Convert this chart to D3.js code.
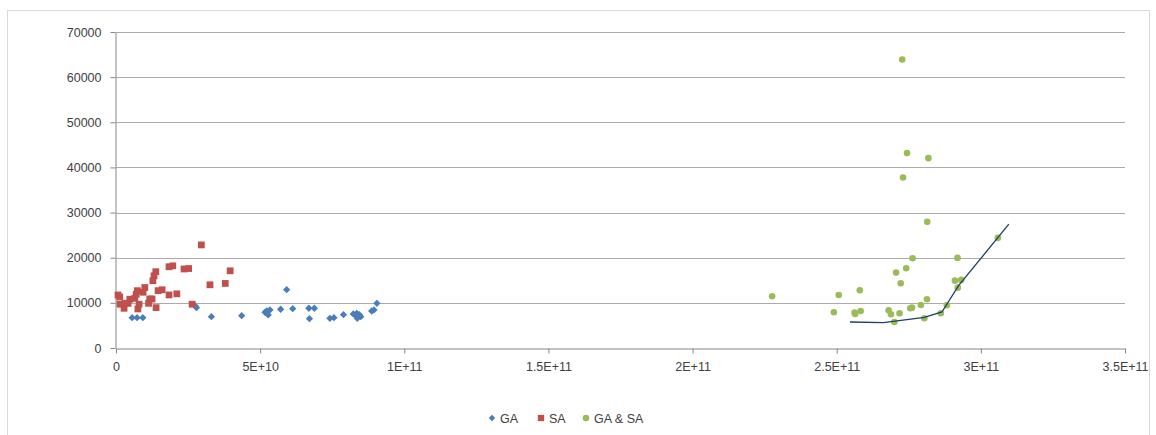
<!DOCTYPE html>
<meta charset="utf-8">

<!-- Load d3.js -->
<script src="https://d3js.org/d3.v7.min.js"></script>

<div id="my_dataviz"></div>
<style>
  body { margin: 0; background: #fff; }
  text { font-family: "Liberation Sans", Arial, sans-serif; fill: #404040; }
</style>
<script>

// GA points [x, y]
var gaData = [
  [0.56e10, 6720], [0.73e10, 6720], [0.93e10, 6720],
  [2.79e10, 8940], [2.75e10, 9300], [3.31e10, 6940],
  [4.36e10, 7160], [5.92e10, 12930],
  [5.23e10, 8200], [5.34e10, 8430], [5.28e10, 7320], [5.17e10, 7920],
  [5.71e10, 8580], [6.13e10, 8720], [6.69e10, 8800], [6.88e10, 8800],
  [6.71e10, 6500], [7.42e10, 6580], [7.56e10, 6720], [7.89e10, 7380],
  [8.23e10, 7540], [8.35e10, 7690], [8.44e10, 7380], [8.37e10, 6580],
  [8.33e10, 7100], [8.49e10, 6940], [8.87e10, 8200], [8.95e10, 8430],
  [9.05e10, 9900]
];

// SA points [x, y]
var saData = [
  [2.96e10, 22840], [1.84e10, 18000], [1.97e10, 18200], [2.36e10, 17500],
  [2.52e10, 17600], [1.38e10, 16900], [1.32e10, 16000], [1.28e10, 14900],
  [3.96e10, 17100], [3.26e10, 14000], [3.79e10, 14300], [1.46e10, 12700],
  [1.60e10, 12900], [1.84e10, 11750], [2.11e10, 12000], [1.00e10, 13400],
  [0.94e10, 12350], [0.74e10, 12700], [0.70e10, 11900], [0.07e10, 11750],
  [0.13e10, 11300], [0.48e10, 10800], [0.42e10, 9900], [0.65e10, 11000],
  [1.17e10, 10860], [1.25e10, 10860], [1.13e10, 9900], [0.80e10, 9700],
  [0.76e10, 8650], [0.14e10, 9700], [0.28e10, 8800], [1.39e10, 8940],
  [2.64e10, 9700], [0.32e10, 9900]
];

// GA & SA points [x, y]
var gasaData = [
  [2.727e11, 63900], [2.744e11, 43170], [2.818e11, 42060], [2.730e11, 37760],
  [2.814e11, 27940], [3.059e11, 24390], [2.763e11, 19890], [2.919e11, 19960],
  [2.741e11, 17670], [2.706e11, 16700], [2.722e11, 14350], [2.910e11, 14920],
  [2.932e11, 15080], [2.920e11, 13370], [2.276e11, 11460], [2.507e11, 11750],
  [2.580e11, 12790], [2.813e11, 10800], [2.792e11, 9530], [2.755e11, 8800],
  [2.761e11, 8940], [2.882e11, 9470], [2.490e11, 7910], [2.562e11, 7830],
  [2.564e11, 7540], [2.583e11, 8200], [2.680e11, 8360], [2.688e11, 7470],
  [2.718e11, 7690], [2.700e11, 5760], [2.804e11, 6580], [2.861e11, 7690]
];

// trend line
var trendData = [
  [2.546e11, 5760], [2.662e11, 5610], [2.804e11, 6800],
  [2.865e11, 7980], [2.922e11, 13750], [3.097e11, 27430]
];

var xTicks = [0, 5e10, 1e11, 1.5e11, 2e11, 2.5e11, 3e11, 3.5e11];
var xTickLabels = ["0", "5E+10", "1E+11", "1.5E+11", "2E+11", "2.5E+11", "3E+11", "3.5E+11"];
var yTicks = [0, 10000, 20000, 30000, 40000, 50000, 60000, 70000];

var seriesNames = ["GA", "SA", "GA & SA"];
var colors = ["#4a7ebb", "#c0504d", "#9bbb59"];

var W = 1156, H = 435;

var svg = d3.select("#my_dataviz")
  .append("svg")
    .attr("width", W)
    .attr("height", H);

// chart border
svg.append("rect")
  .attr("x", 7.5).attr("y", 10.5)
  .attr("width", 1142).attr("height", 440)
  .attr("fill", "none")
  .attr("stroke", "#d9d9d9");

var x = d3.scaleLinear().domain([0, 3.5e11]).range([116, 1125]);
var y = d3.scaleLinear().domain([0, 70000]).range([348, 32]);

// gridlines
svg.append("g")
  .selectAll("line")
  .data(yTicks.slice(1))
  .enter()
  .append("line")
    .attr("x1", x(0)).attr("x2", x(3.5e11))
    .attr("y1", function(d) { return Math.round(y(d)) + 0.5; })
    .attr("y2", function(d) { return Math.round(y(d)) + 0.5; })
    .attr("stroke", "#ababab");

// X axis
var xAxis = svg.append("g")
  .attr("transform", "translate(0," + (Math.round(y(0)) + 0.5) + ")")
  .call(d3.axisBottom(x)
    .tickValues(xTicks)
    .tickFormat(function(d, i) { return xTickLabels[i]; })
    .tickSizeInner(5).tickSizeOuter(0)
    .tickPadding(9));

// Y axis
var yAxis = svg.append("g")
  .attr("transform", "translate(" + (Math.round(x(0)) - 0.5) + ",0)")
  .call(d3.axisLeft(y)
    .tickValues(yTicks)
    .tickFormat(d3.format("d"))
    .tickSizeInner(5).tickSizeOuter(0)
    .tickPadding(9));

svg.selectAll(".domain, .tick line").attr("stroke", "#868686");
svg.selectAll(".tick text")
  .style("font-size", "12.5px")
  .style("font-family", "'Liberation Sans', Arial, sans-serif")
  .attr("fill", "#404040");

// markers
var diamond = d3.symbol().type(d3.symbolDiamond2).size(34);
var square = d3.symbol().type(d3.symbolSquare).size(46);

svg.append("g")
  .selectAll("path")
  .data(gaData)
  .enter()
  .append("path")
    .attr("d", diamond)
    .attr("transform", function(d) { return "translate(" + x(d[0]) + "," + y(d[1]) + ")"; })
    .attr("fill", colors[0]);

svg.append("g")
  .selectAll("path")
  .data(saData)
  .enter()
  .append("path")
    .attr("d", square)
    .attr("transform", function(d) { return "translate(" + x(d[0]) + "," + y(d[1]) + ")"; })
    .attr("fill", colors[1]);

svg.append("g")
  .selectAll("circle")
  .data(gasaData)
  .enter()
  .append("circle")
    .attr("cx", function(d) { return x(d[0]); })
    .attr("cy", function(d) { return y(d[1]); })
    .attr("r", 3.3)
    .attr("fill", colors[2]);

// trend line
svg.append("path")
  .datum(trendData)
  .attr("fill", "none")
  .attr("stroke", "#1f3f66")
  .attr("stroke-width", 1.3)
  .attr("d", d3.line()
    .x(function(d) { return x(d[0]); })
    .y(function(d) { return y(d[1]); }));

// legend
var legendX = [492, 541, 586];
var legendY = 418;
var legend = svg.append("g");

legend.append("path")
  .attr("d", d3.symbol().type(d3.symbolDiamond2).size(26))
  .attr("transform", "translate(" + legendX[0] + "," + legendY + ")")
  .attr("fill", colors[0]);
legend.append("path")
  .attr("d", d3.symbol().type(d3.symbolSquare).size(40))
  .attr("transform", "translate(" + legendX[1] + "," + legendY + ")")
  .attr("fill", colors[1]);
legend.append("circle")
  .attr("cx", legendX[2]).attr("cy", legendY)
  .attr("r", 3.3)
  .attr("fill", colors[2]);

legend.selectAll("text")
  .data(seriesNames)
  .enter()
  .append("text")
    .attr("x", function(d, i) { return legendX[i] + 8; })
    .attr("y", legendY + 4.5)
    .style("font-size", "12.5px")
    .text(function(d) { return d; });

</script>
